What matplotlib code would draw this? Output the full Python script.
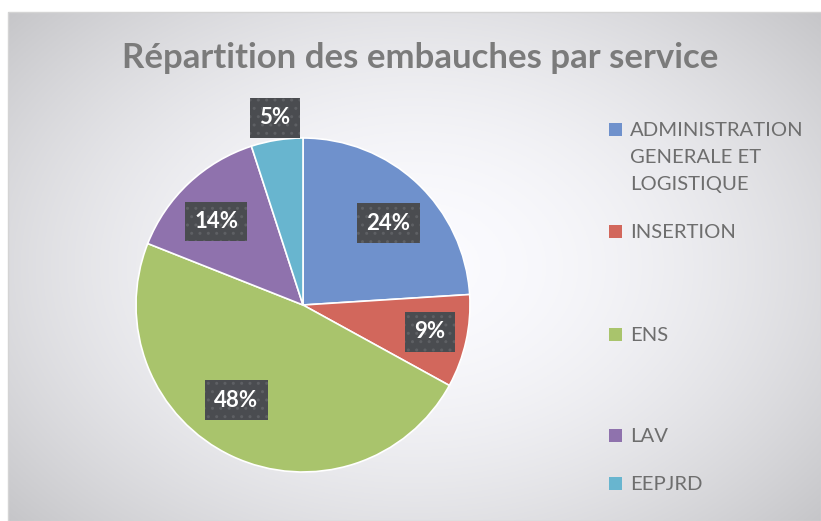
import numpy as np
import matplotlib.pyplot as plt
from matplotlib.patches import Rectangle

services = ['ADMINISTRATION\nGENERALE ET\nLOGISTIQUE', 'INSERTION', 'ENS', 'LAV', 'EEPJRD']
shares = [24, 9, 48, 14, 5]
colors = ['#6f91cc', '#d2675c', '#a9c46c', '#8f72ad', '#68b5cf']
label_pos = [(0.51, 0.49), (0.76, -0.16), (-0.40, -0.57), (-0.52, 0.50), (-0.17, 1.12)]

W, H = 821, 521
fig = plt.figure(figsize=(W / 100, H / 100), dpi=100)
fig.patch.set_facecolor('white')

# radial gradient background of the chart area
bg = fig.add_axes([8 / W, 0, 1 - 8 / W, 1 - 12 / H])
yy, xx = np.mgrid[-1:1:300j, -1:1:500j]
rr = np.sqrt((xx * 0.85) ** 2 + (yy * 0.75) ** 2)
shade = 1 - 0.17 * np.clip(rr, 0, 1.3) ** 1.8
bg.imshow(np.dstack([shade * 0.985, shade * 0.985, shade]), extent=[0, 1, 0, 1], aspect='auto')
bg.set_axis_off()
fig.add_artist(Rectangle((8 / W, 0), 1 - 8 / W, 1 - 12 / H, transform=fig.transFigure,
                         fill=False, edgecolor='#d4d4d4', lw=1))

fig.text(420 / W, 1 - 58 / H, 'Répartition des embauches par service', ha='center', va='center',
         fontsize=25, fontweight='bold', color='#7b7b7b', family='Lato')

# pie: centre (303, 305) px, radius 167 px
r = 167
ax = fig.add_axes([(303 - r) / W, 1 - (305 + r) / H, 2 * r / W, 2 * r / H])
ax.pie(shares, colors=colors, startangle=90, counterclock=False,
       wedgeprops=dict(edgecolor='white', linewidth=1.2))
ax.set_xlim(-1, 1)
ax.set_ylim(-1, 1)
ax.set_aspect('equal')
for s, (x, y) in zip(shares, label_pos):
    ax.text(x, y, f'{s}%', ha='center', va='center', fontsize=16, fontweight='bold', color='white',
            family='Lato', clip_on=False,
            bbox=dict(boxstyle='square,pad=0.42', facecolor='#4a4c50', edgecolor='#5e6064',
                      hatch='..', lw=0))

# legend drawn by hand to follow the spread-out spacing
leg_y = [130, 232, 335, 436, 484]
for lab, c, y in zip(services, colors, leg_y):
    fig.add_artist(Rectangle((609 / W, 1 - (y + 6) / H), 13 / W, 13 / H,
                             transform=fig.transFigure, facecolor=c, edgecolor='none'))
    fig.text(630 / W, 1 - (y - 8) / H, lab, ha='left', va='top', fontsize=14.6,
             color='#6e6e6e', family='Lato', linespacing=1.72)

fig.savefig('out.png', dpi=100)
